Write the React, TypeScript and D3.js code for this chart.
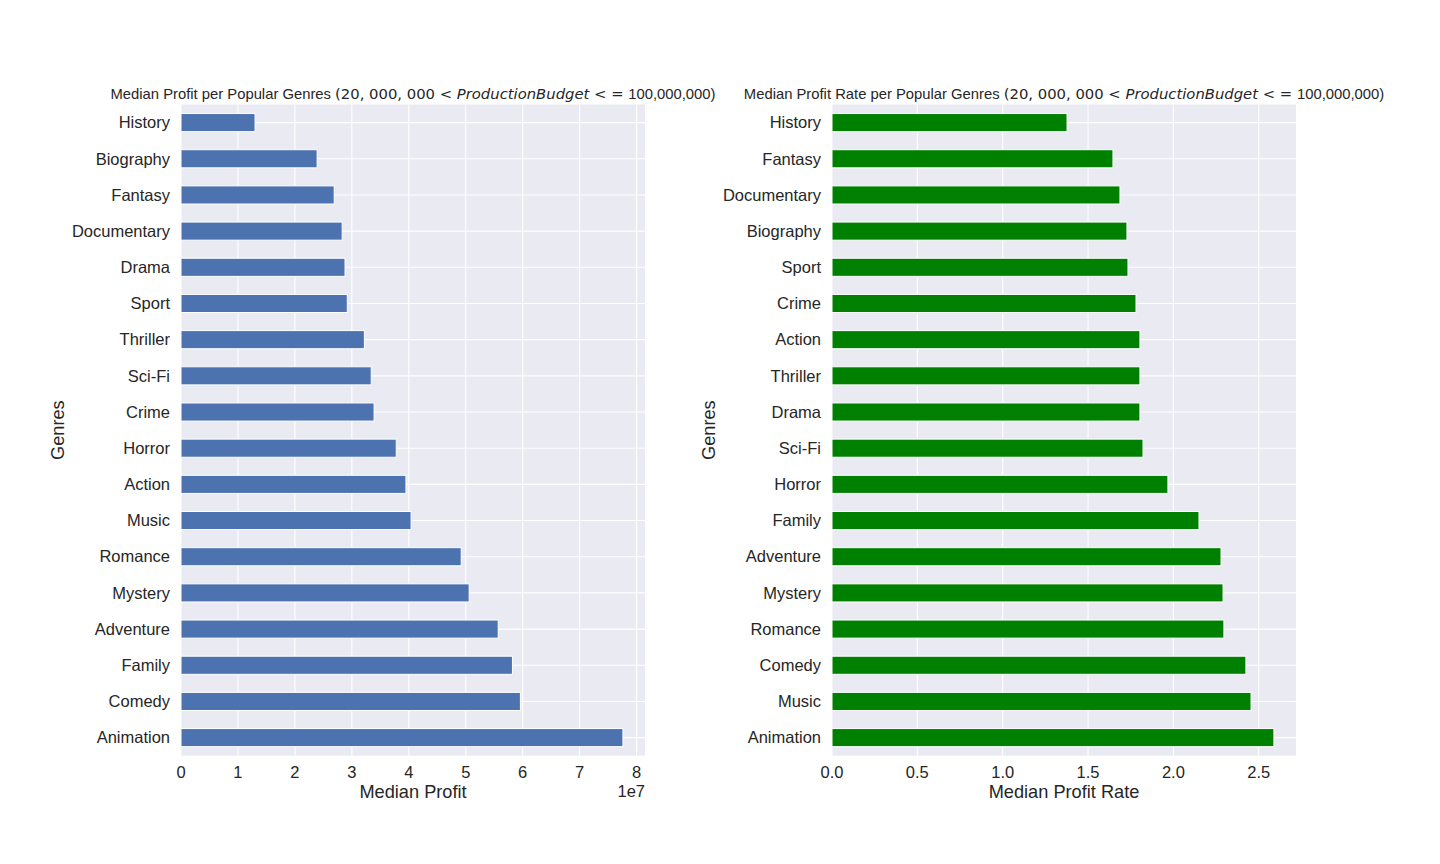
import React from "react";
import * as d3 from "d3";

const profitGenres = ["History","Biography","Fantasy","Documentary","Drama","Sport","Thriller","Sci-Fi","Crime","Horror","Action","Music","Romance","Mystery","Adventure","Family","Comedy","Animation"];
const profitValues = [1.30e7,2.39e7,2.69e7,2.83e7,2.88e7,2.92e7,3.22e7,3.34e7,3.39e7,3.78e7,3.95e7,4.04e7,4.92e7,5.06e7,5.57e7,5.82e7,5.96e7,7.76e7];
const profitTicks = [0,1e7,2e7,3e7,4e7,5e7,6e7,7e7,8e7];

const rateGenres = ["History","Fantasy","Documentary","Biography","Sport","Crime","Action","Thriller","Drama","Sci-Fi","Horror","Family","Adventure","Mystery","Romance","Comedy","Music","Animation"];
const rateValues = [1.377,1.646,1.687,1.728,1.734,1.781,1.804,1.804,1.804,1.822,1.968,2.150,2.279,2.291,2.296,2.425,2.455,2.589];
const rateTicks = [0,0.5,1.0,1.5,2.0,2.5];

const SANS = "'Liberation Sans', Arial, sans-serif";
const MATH = "'DejaVu Sans', sans-serif";

type PanelProps = {
  left: number; right: number; top: number; bottom: number;
  genres: string[]; values: number[]; ticks: number[];
  color: string; tickFmt: (v: number) => string;
  xlabel: string; titlePrefix: string; offsetText?: string;
};

function Panel(p: PanelProps) {
  const maxV = d3.max(p.values) as number;
  const x = d3.scaleLinear().domain([0, maxV * 1.05]).range([p.left, p.right]);
  const y = d3.scaleBand().domain(p.genres).range([p.top, p.bottom]).paddingInner(0.5).paddingOuter(0.25);
  const cy = (g: string) => (y(g) as number) + y.bandwidth() / 2;
  const cx = (p.left + p.right) / 2;
  const cyMid = (p.top + p.bottom) / 2;
  return (
    <g>
      <rect x={p.left} y={p.top} width={p.right - p.left} height={p.bottom - p.top} fill="#eaeaf2" />
      {p.ticks.map((t) => (
        <line key={"gx" + t} x1={x(t)} x2={x(t)} y1={p.top} y2={p.bottom} stroke="#fff" strokeWidth={1.1} />
      ))}
      {p.genres.map((g) => (
        <line key={"gy" + g} x1={p.left} x2={p.right} y1={cy(g)} y2={cy(g)} stroke="#fff" strokeWidth={1.1} />
      ))}
      {p.genres.map((g, i) => (
        <rect key={"b" + g} x={x(0)} y={y(g)} width={x(p.values[i]) - x(0)} height={y.bandwidth()}
          fill={p.color} stroke="#fff" strokeWidth={1} />
      ))}
      {p.genres.map((g) => (
        <text key={"yl" + g} x={p.left - 11} y={cy(g)} dy="0.35em" textAnchor="end"
          fontFamily={SANS} fontSize={16.5} fill="#262626">{g}</text>
      ))}
      {p.ticks.map((t) => (
        <text key={"xl" + t} x={x(t)} y={p.bottom + 22} textAnchor="middle"
          fontFamily={SANS} fontSize={16.5} fill="#262626">{p.tickFmt(t)}</text>
      ))}
      <text x={cx} y={p.bottom + 42} textAnchor="middle" fontFamily={SANS} fontSize={18.2} fill="#262626">{p.xlabel}</text>
      {p.offsetText && (
        <text x={p.right} y={p.bottom + 41} textAnchor="end" fontFamily={SANS} fontSize={16.5} fill="#262626">{p.offsetText}</text>
      )}
      <text transform={`translate(${p.left - 117},${cyMid}) rotate(-90)`} textAnchor="middle"
        fontFamily={SANS} fontSize={18.2} fill="#262626">Genres</text>
      <text x={cx} y={p.top - 6} textAnchor="middle" fontSize={14.8} fill="#262626" fontFamily={SANS}>
        <tspan fontFamily={SANS}>{p.titlePrefix} </tspan>
        <tspan fontFamily={MATH}>(20, 000, 000 &lt; </tspan>
        <tspan fontFamily={MATH} fontStyle="italic">ProductionBudget</tspan>
        <tspan fontFamily={MATH}> &lt;  = </tspan>
        <tspan fontFamily={SANS}>100,000,000)</tspan>
      </text>
    </g>
  );
}

export default function App() {
  return (
    <svg width={1440} height={864} style={{ position: "absolute", left: 0, top: 0, background: "#fff" }}>
      <Panel left={181} right={645} top={104.5} bottom={755.7} genres={profitGenres} values={profitValues}
        ticks={profitTicks} color="#4c72b0" tickFmt={(v) => String(v / 1e7)} xlabel="Median Profit"
        titlePrefix="Median Profit per Popular Genres" offsetText="1e7" />
      <Panel left={832} right={1296} top={104.5} bottom={755.7} genres={rateGenres} values={rateValues}
        ticks={rateTicks} color="#008000" tickFmt={(v) => v.toFixed(1)} xlabel="Median Profit Rate"
        titlePrefix="Median Profit Rate per Popular Genres" />
    </svg>
  );
}
